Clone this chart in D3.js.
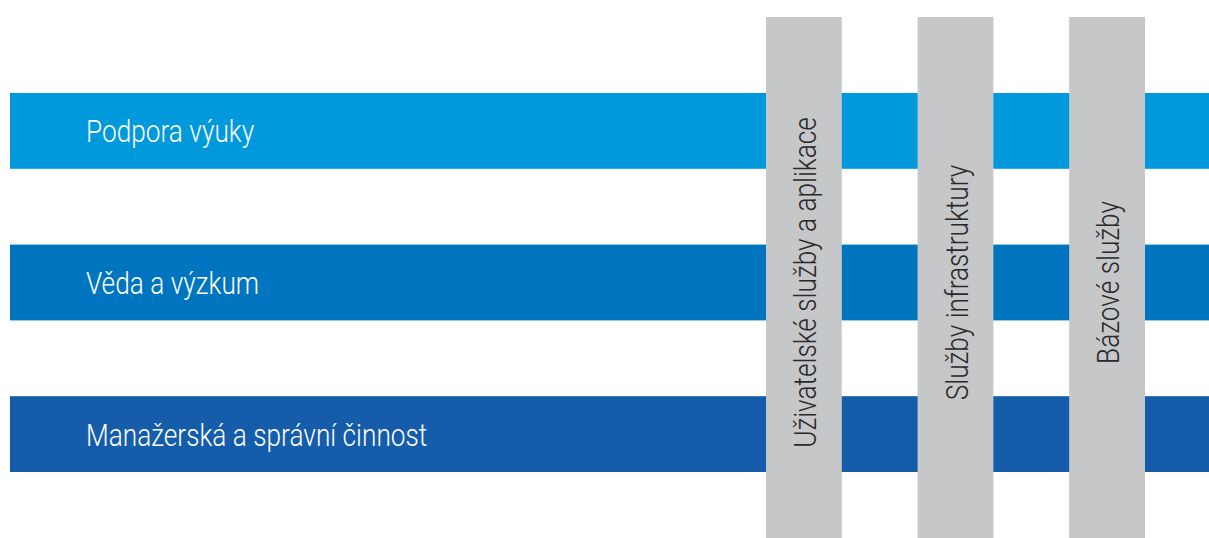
<!DOCTYPE html>
<html>
<head>
<meta charset="utf-8">
<script src="https://cdn.jsdelivr.net/npm/d3@7"></script>
<style>
  body { margin: 0; background: #fff; }
  text { font-family: Roboto, "Noto Sans", sans-serif; font-weight: 300; }
</style>
</head>
<body>
<script>
// rows (horizontal bands) and columns (vertical bars)
var rows = ["Podpora výuky", "Věda a výzkum", "Manažerská a správní činnost"];
var rowColors = ["#0099db", "#0075bf", "#155dab"];
var columns = ["Uživatelské služby a aplikace", "Služby infrastruktury", "Bázové služby"];
var columnColor = "#c6c7c9";

var width = 1209,
    height = 538,
    condense = 0.82,   // the original font is a narrow one
    fontSize = 32;

var svg = d3.select("body").append("svg")
    .attr("width", width)
    .attr("height", height);

// set the ranges
var y = d3.scaleBand().domain(rows).range([93, 472]).paddingInner(0.5).paddingOuter(0);
var x = d3.scaleBand().domain(columns).range([766, 1145]).paddingInner(0.5).paddingOuter(0);
var color = d3.scaleOrdinal().domain(rows).range(rowColors);

// horizontal bands
svg.selectAll(".row")
    .data(rows)
    .enter().append("rect")
    .attr("class", "row")
    .attr("x", 10)
    .attr("y", function(d){ return y(d); })
    .attr("width", width - 10)
    .attr("height", y.bandwidth())
    .attr("fill", function(d){ return color(d); });

svg.selectAll(".row-label")
    .data(rows)
    .enter().append("text")
    .attr("class", "row-label")
    .attr("transform", function(d){
        return "translate(86," + (y(d) + y.bandwidth() / 2 + 11.5) + ") scale(" + condense + ",1)";
    })
    .attr("fill", "#fff")
    .style("font-size", fontSize + "px")
    .text(function(d){ return d; });

// vertical columns on top
svg.selectAll(".col")
    .data(columns)
    .enter().append("rect")
    .attr("class", "col")
    .attr("x", function(d){ return x(d); })
    .attr("y", 17)
    .attr("width", x.bandwidth())
    .attr("height", height - 17)
    .attr("fill", columnColor);

var midY = y(rows[1]) + y.bandwidth() / 2;

svg.selectAll(".col-label")
    .data(columns)
    .enter().append("text")
    .attr("class", "col-label")
    .attr("transform", function(d){
        return "translate(" + (x(d) + x.bandwidth() / 2 + 12) + "," + midY + ") rotate(-90) scale(" + condense + ",1)";
    })
    .attr("text-anchor", "middle")
    .attr("fill", "#2a2a2a")
    .style("font-size", fontSize + "px")
    .text(function(d){ return d; });
</script>
</body>
</html>
